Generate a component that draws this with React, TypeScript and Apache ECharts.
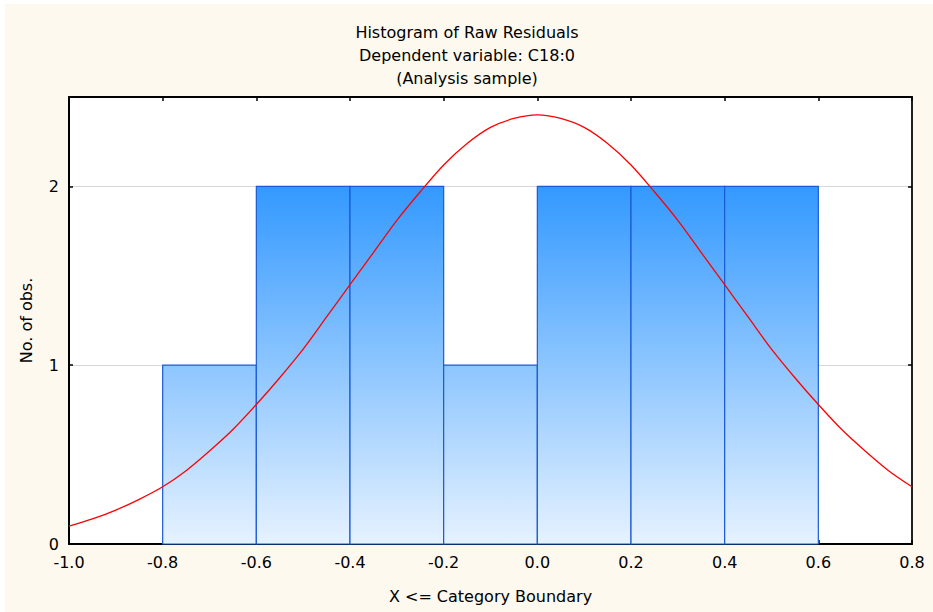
import React, { useEffect, useRef } from "react";
import * as echarts from "echarts";

const titleLines = ["Histogram of Raw Residuals", "Dependent variable: C18:0", "(Analysis sample)"];
const binStarts = [-0.8, -0.6, -0.4, -0.2, 0.0, 0.2, 0.4];
const binWidth = 0.2;
const counts = [1, 2, 2, 1, 2, 2, 2];
const curveX = [
  -1.0, -0.95, -0.9, -0.85, -0.8, -0.75, -0.7, -0.65, -0.6, -0.55, -0.5, -0.45, -0.4, -0.35, -0.3, -0.25, -0.2, -0.15, -0.1, -0.05,
  0.0, 0.05, 0.1, 0.15, 0.2, 0.25, 0.3, 0.35, 0.4, 0.45, 0.5, 0.55, 0.6, 0.65, 0.7, 0.75, 0.8,
];
const curveY = [
  0.10, 0.14, 0.19, 0.25, 0.32, 0.41, 0.52, 0.64, 0.78, 0.93, 1.09, 1.27, 1.45, 1.63, 1.81, 1.97, 2.12, 2.24, 2.33, 2.38,
  2.40, 2.38, 2.33, 2.24, 2.12, 1.97, 1.81, 1.63, 1.45, 1.27, 1.09, 0.93, 0.78, 0.64, 0.52, 0.41, 0.32,
];
const xAxisName = "X <= Category Boundary";
const yAxisName = "No. of obs.";

const FONT = '"DejaVu Sans", Verdana, sans-serif';
const FS = 16;

export default function App() {
  const ref = useRef<HTMLDivElement>(null);
  useEffect(() => {
    if (!ref.current) return;
    const chart = echarts.init(ref.current, null, { renderer: "svg" });
    const barData = binStarts.map((s, i) => [s, s + binWidth, counts[i]]);
    const curveData = curveX.map((x, i) => [x, curveY[i]]);
    const axisCommon = {
      type: "value" as const,
      axisLine: { show: true, onZero: false, lineStyle: { color: "#000", width: 2 } },
      axisTick: { show: true, inside: true, length: 4, lineStyle: { color: "#000", width: 1.5 } },
    };
    chart.setOption({
      animation: false,
      backgroundColor: "#ffffff",
      textStyle: { fontFamily: FONT },
      graphic: [
        {
          type: "rect",
          z: -10,
          silent: true,
          shape: { x: 5, y: 4, width: 940, height: 620 },
          style: { fill: "#FEF9EE" },
        },
      ],
      title: {
        text: titleLines.join("\n"),
        left: 462,
        top: 16,
        textAlign: "center",
        textStyle: { fontFamily: FONT, fontSize: FS, fontWeight: "normal", color: "#000", lineHeight: 23 },
      },
      grid: {
        left: 69,
        right: 21,
        top: 97,
        bottom: 68,
        show: true,
        backgroundColor: "#ffffff",
        borderWidth: 0,
      },
      xAxis: [
        {
          ...axisCommon,
          position: "bottom",
          min: -1.0,
          max: 0.8,
          interval: 0.2,
          name: xAxisName,
          nameLocation: "middle",
          nameGap: 44,
          nameTextStyle: { fontFamily: FONT, fontSize: FS, color: "#000" },
          axisLabel: {
            fontFamily: FONT,
            fontSize: FS,
            color: "#000",
            margin: 10,
            formatter: (v: number) => v.toFixed(1),
          },
          splitLine: { show: false },
        },
        {
          ...axisCommon,
          position: "top",
          min: -1.0,
          max: 0.8,
          interval: 0.2,
          axisLabel: { show: false },
          splitLine: { show: false },
        },
      ],
      yAxis: [
        {
          ...axisCommon,
          position: "left",
          min: 0,
          max: 2.5,
          interval: 1,
          name: yAxisName,
          nameLocation: "middle",
          nameRotate: 90,
          nameGap: 35,
          nameTextStyle: { fontFamily: FONT, fontSize: FS, color: "#000" },
          axisLabel: {
            fontFamily: FONT,
            fontSize: FS,
            color: "#000",
            margin: 10,
            formatter: (v: number) => (Number.isInteger(v) ? String(v) : ""),
          },
          splitLine: { show: true, lineStyle: { color: "#d8d8d8", width: 1 } },
        },
        {
          ...axisCommon,
          position: "right",
          min: 0,
          max: 2.5,
          interval: 1,
          axisLine: { show: true, onZero: false, lineStyle: { color: "#222", width: 2 } },
          axisLabel: { show: false },
          splitLine: { show: false },
        },
      ],
      series: [
        {
          type: "custom",
          xAxisIndex: 0,
          yAxisIndex: 0,
          z: 2,
          data: barData,
          renderItem: (params: any, api: any) => {
            const x0 = api.value(0);
            const x1 = api.value(1);
            const c = api.value(2);
            const p0 = api.coord([x0, c]);
            const p1 = api.coord([x1, 0]);
            const gTop = api.coord([0, 2])[1];
            const gBot = api.coord([0, 0])[1];
            return {
              type: "rect",
              shape: { x: p0[0], y: p0[1], width: p1[0] - p0[0], height: p1[1] - p0[1] },
              style: {
                fill: {
                  type: "linear",
                  x: 0,
                  y: gTop,
                  x2: 0,
                  y2: gBot,
                  global: true,
                  colorStops: [
                    { offset: 0, color: "#3399FF" },
                    { offset: 1, color: "#E6F2FF" },
                  ],
                },
                stroke: "#1A5AD6",
                lineWidth: 1.2,
              },
            };
          },
        },
        {
          type: "line",
          xAxisIndex: 0,
          yAxisIndex: 0,
          z: 5,
          data: curveData,
          smooth: 0.3,
          symbol: "none",
          clip: true,
          lineStyle: { color: "#FF0000", width: 1.3 },
        },
      ],
    });
    return () => chart.dispose();
  }, []);
  return (
    <div
      ref={ref}
      style={{ position: "absolute", left: 0, top: 0, width: 933, height: 612 }}
    />
  );
}
